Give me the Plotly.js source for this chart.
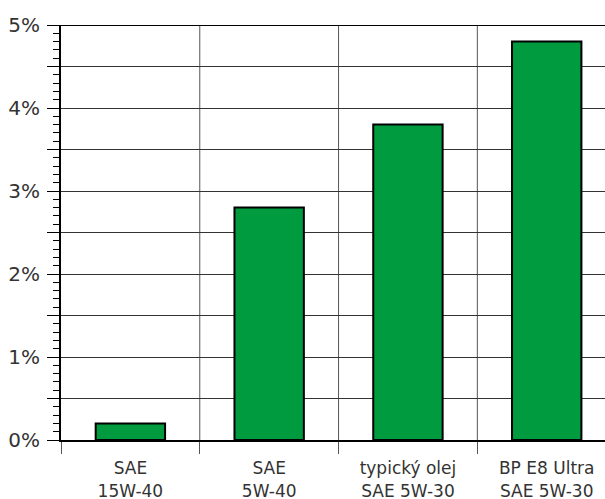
<!DOCTYPE html>
<html>
<head>
<meta charset="utf-8">
<script src="https://cdn.plot.ly/plotly-3.0.1.min.js"></script>
<style>html,body{margin:0;padding:0;background:#fff;overflow:hidden;}#chart{width:605px;height:499px;}</style>
</head>
<body>
<div id="chart"></div>
<script>
const categories = ["SAE<br>15W-40", "SAE<br>5W-40", "typický olej<br>SAE 5W-30", "BP E8 Ultra<br>SAE 5W-30"];
const values = [0.2, 2.8, 3.8, 4.8];
const separators = [0.5, 1.5, 2.5];
const yTickVals = [0, 0.5, 1, 1.5, 2, 2.5, 3, 3.5, 4, 4.5, 5];
const yTickText = ["0%", "", "1%", "", "2%", "", "3%", "", "4%", "", "5%"];

const trace = {
  type: "bar",
  x: categories,
  y: values,
  width: 0.5,
  marker: {color: "#009b3e", line: {color: "#000", width: 2}},
  hoverinfo: "none"
};

const shapes = [
  {type: "line", xref: "paper", yref: "y", x0: 0, x1: 1, y0: 5, y1: 5, line: {color: "#000", width: 2}}
].concat(separators.map(s => ({
  type: "line", xref: "x", yref: "y", x0: s, x1: s, y0: 0, y1: 5,
  line: {color: "#555", width: 1}, layer: "below"
})));

const layout = {
  width: 605, height: 499,
  margin: {l: 61, r: 0, t: 25, b: 59, pad: 0},
  paper_bgcolor: "#fff", plot_bgcolor: "#fff",
  showlegend: false,
  font: {family: "DejaVu Sans, sans-serif", color: "#333"},
  xaxis: {
    type: "category",
    range: [-0.5, 3.42],
    tickson: "boundaries",
    ticks: "outside", ticklen: 12, tickwidth: 1, tickcolor: "#555",
    showgrid: false,
    showline: true, linecolor: "#000", linewidth: 2, mirror: false,
    tickfont: {size: 17, color: "#333"},
    ticklabelstandoff: 12,
    fixedrange: true
  },
  yaxis: {
    range: [0, 5],
    tickmode: "array", tickvals: yTickVals, ticktext: yTickText,
    ticks: "outside", ticklen: 12, tickwidth: 1, tickcolor: "#000",
    showgrid: true, gridcolor: "#333", gridwidth: 1,
    showline: true, linecolor: "#000", linewidth: 2,
    zeroline: false,
    tickfont: {size: 20, color: "#333"},
    ticklabelstandoff: 3,
    minor: {dtick: 0.1, tick0: 0, ticks: "outside", ticklen: 6, tickwidth: 1, tickcolor: "#000", showgrid: false},
    fixedrange: true
  },
  shapes: shapes
};

Plotly.newPlot("chart", [trace], layout, {displayModeBar: false, staticPlot: true});
</script>
</body>
</html>
